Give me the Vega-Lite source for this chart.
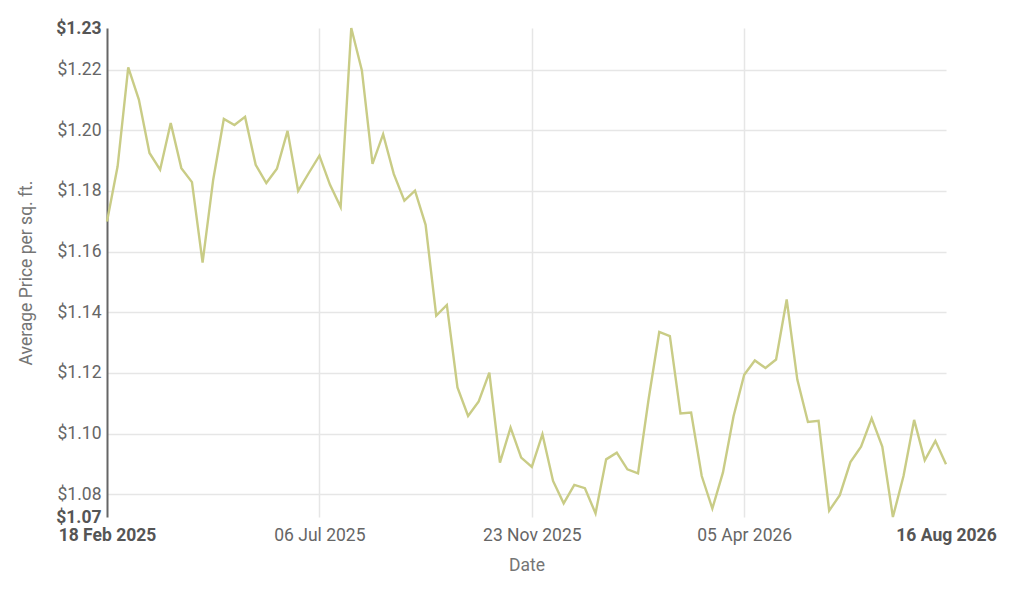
{
  "$schema": "https://vega.github.io/schema/vega-lite/v6.json",
  "autosize": {"type": "none"},
  "padding": {"left": 107, "top": 28, "right": 78, "bottom": 90},
  "width": 839,
  "height": 489,
  "background": "white",
  "data": {
    "values": [
      {"date": "18 Feb 2025", "price": 1.1699},
      {"date": "25 Feb 2025", "price": 1.1881},
      {"date": "04 Mar 2025", "price": 1.2207},
      {"date": "11 Mar 2025", "price": 1.2101},
      {"date": "18 Mar 2025", "price": 1.1925},
      {"date": "25 Mar 2025", "price": 1.1870},
      {"date": "01 Apr 2025", "price": 1.2024},
      {"date": "08 Apr 2025", "price": 1.1875},
      {"date": "15 Apr 2025", "price": 1.1829},
      {"date": "22 Apr 2025", "price": 1.1564},
      {"date": "29 Apr 2025", "price": 1.1837},
      {"date": "06 May 2025", "price": 1.2037},
      {"date": "13 May 2025", "price": 1.2017},
      {"date": "20 May 2025", "price": 1.2044},
      {"date": "27 May 2025", "price": 1.1886},
      {"date": "03 Jun 2025", "price": 1.1826},
      {"date": "10 Jun 2025", "price": 1.1873},
      {"date": "17 Jun 2025", "price": 1.1998},
      {"date": "24 Jun 2025", "price": 1.1800},
      {"date": "30 Jun 2025", "price": 1.1859},
      {"date": "06 Jul 2025", "price": 1.1916},
      {"date": "13 Jul 2025", "price": 1.1820},
      {"date": "20 Jul 2025", "price": 1.1747},
      {"date": "27 Jul 2025", "price": 1.2337},
      {"date": "03 Aug 2025", "price": 1.2197},
      {"date": "10 Aug 2025", "price": 1.1889},
      {"date": "17 Aug 2025", "price": 1.1987},
      {"date": "24 Aug 2025", "price": 1.1856},
      {"date": "31 Aug 2025", "price": 1.1768},
      {"date": "07 Sep 2025", "price": 1.1801},
      {"date": "14 Sep 2025", "price": 1.1688},
      {"date": "21 Sep 2025", "price": 1.1389},
      {"date": "28 Sep 2025", "price": 1.1424},
      {"date": "05 Oct 2025", "price": 1.1152},
      {"date": "12 Oct 2025", "price": 1.1058},
      {"date": "19 Oct 2025", "price": 1.1106},
      {"date": "26 Oct 2025", "price": 1.1201},
      {"date": "02 Nov 2025", "price": 1.0904},
      {"date": "09 Nov 2025", "price": 1.1020},
      {"date": "16 Nov 2025", "price": 1.0921},
      {"date": "23 Nov 2025", "price": 1.0890},
      {"date": "30 Nov 2025", "price": 1.0998},
      {"date": "07 Dec 2025", "price": 1.0844},
      {"date": "14 Dec 2025", "price": 1.0770},
      {"date": "21 Dec 2025", "price": 1.0831},
      {"date": "28 Dec 2025", "price": 1.0820},
      {"date": "04 Jan 2026", "price": 1.0737},
      {"date": "11 Jan 2026", "price": 1.0915},
      {"date": "18 Jan 2026", "price": 1.0937},
      {"date": "25 Jan 2026", "price": 1.0882},
      {"date": "01 Feb 2026", "price": 1.0869},
      {"date": "08 Feb 2026", "price": 1.1114},
      {"date": "15 Feb 2026", "price": 1.1335},
      {"date": "22 Feb 2026", "price": 1.1321},
      {"date": "28 Feb 2026", "price": 1.1066},
      {"date": "06 Mar 2026", "price": 1.1069},
      {"date": "12 Mar 2026", "price": 1.0860},
      {"date": "18 Mar 2026", "price": 1.0753},
      {"date": "24 Mar 2026", "price": 1.0872},
      {"date": "30 Mar 2026", "price": 1.1058},
      {"date": "05 Apr 2026", "price": 1.1194},
      {"date": "12 Apr 2026", "price": 1.1241},
      {"date": "19 Apr 2026", "price": 1.1216},
      {"date": "26 Apr 2026", "price": 1.1244},
      {"date": "03 May 2026", "price": 1.1442},
      {"date": "10 May 2026", "price": 1.1178},
      {"date": "17 May 2026", "price": 1.1038},
      {"date": "24 May 2026", "price": 1.1042},
      {"date": "31 May 2026", "price": 1.0746},
      {"date": "07 Jun 2026", "price": 1.0797},
      {"date": "14 Jun 2026", "price": 1.0906},
      {"date": "21 Jun 2026", "price": 1.0957},
      {"date": "28 Jun 2026", "price": 1.1050},
      {"date": "05 Jul 2026", "price": 1.0957},
      {"date": "12 Jul 2026", "price": 1.0725},
      {"date": "19 Jul 2026", "price": 1.0860},
      {"date": "26 Jul 2026", "price": 1.1045},
      {"date": "02 Aug 2026", "price": 1.0912},
      {"date": "09 Aug 2026", "price": 1.0976},
      {"date": "16 Aug 2026", "price": 1.0899}
    ]
  },
  "mark": {"type": "line", "color": "#c9cc86", "strokeWidth": 2.4, "interpolate": "linear"},
  "encoding": {
    "x": {
      "field": "date",
      "type": "ordinal",
      "sort": null,
      "title": "Date",
      "scale": {"type": "point", "padding": 0},
      "axis": {
        "values": ["18 Feb 2025", "06 Jul 2025", "23 Nov 2025", "05 Apr 2026", "16 Aug 2026"],
        "labelAngle": 0,
        "ticks": false,
        "domain": false,
        "labelPadding": 9,
        "labelOverlap": false,
        "labelFontWeight": {
          "condition": {"test": "datum.value == '18 Feb 2025' || datum.value == '16 Aug 2026'", "value": "bold"},
          "value": "normal"
        },
        "labelColor": {
          "condition": {"test": "datum.value == '18 Feb 2025' || datum.value == '16 Aug 2026'", "value": "#555555"},
          "value": "#666666"
        },
        "grid": true,
        "gridOpacity": {
          "condition": {"test": "datum.value == '18 Feb 2025' || datum.value == '16 Aug 2026'", "value": 0},
          "value": 1
        },
        "titlePadding": 13
      }
    },
    "y": {
      "field": "price",
      "type": "quantitative",
      "title": "Average Price per sq. ft.",
      "scale": {"domain": [1.0725, 1.2337], "zero": false, "nice": false},
      "axis": {
        "values": [1.0725, 1.08, 1.1, 1.12, 1.14, 1.16, 1.18, 1.2, 1.22, 1.2337],
        "format": "$.2f",
        "ticks": false,
        "domain": true,
        "domainColor": "#666666",
        "domainWidth": 2,
        "labelPadding": 6,
        "labelOverlap": false,
        "labelFontWeight": {
          "condition": {"test": "datum.value < 1.075 || datum.value > 1.23", "value": "bold"},
          "value": "normal"
        },
        "labelColor": {
          "condition": {"test": "datum.value < 1.075 || datum.value > 1.23", "value": "#555555"},
          "value": "#666666"
        },
        "grid": true,
        "gridOpacity": {
          "condition": {"test": "datum.value < 1.075 || datum.value > 1.23", "value": 0},
          "value": 1
        },
        "titlePadding": 20
      }
    }
  },
  "config": {
    "font": "Roboto",
    "view": {"stroke": null},
    "axis": {
      "labelFont": "Roboto",
      "labelFontSize": 17.5,
      "titleFont": "Roboto",
      "titleFontSize": 17.5,
      "titleFontWeight": "normal",
      "titleColor": "#757575",
      "gridColor": "#e6e6e6",
      "gridWidth": 1.5
    }
  }
}
